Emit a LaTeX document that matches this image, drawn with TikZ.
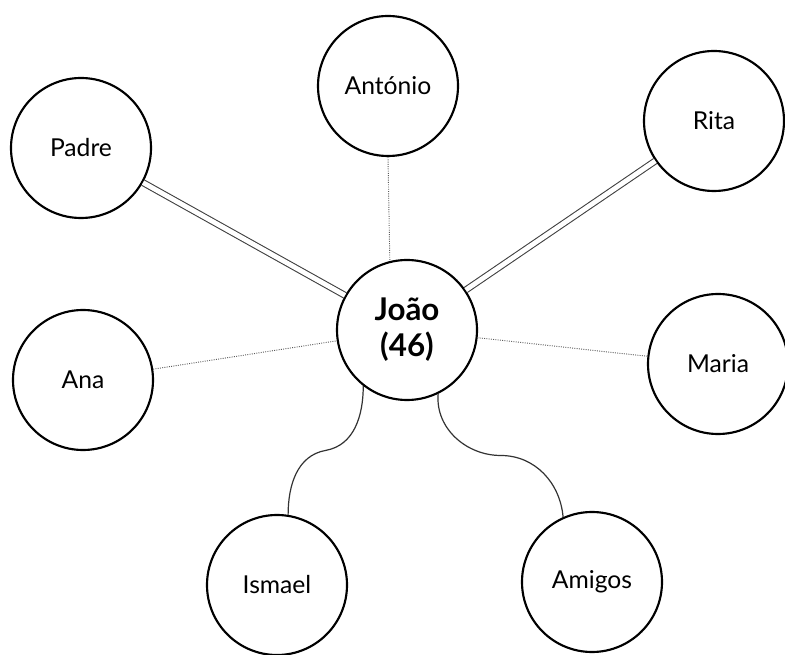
\documentclass[tikz,border=0pt]{standalone}
\usepackage{fontspec}
\setmainfont{Lato}
\usepackage{tikz}
\usetikzlibrary{calc}

\tikzset{
  person/.style={draw, circle, line width=1.6pt, minimum size=105pt, inner sep=0pt, font=\fontsize{18.5}{22}\selectfont},
  ego/.style={person, font=\bfseries\fontsize{23.5}{27}\selectfont, align=center},
  weak/.style={densely dotted, line width=0.7pt, gray!70!black},
  strong/.style={double, double distance=3.6pt, line width=0.8pt, black!75},
  tense/.style={line width=0.9pt, black!80}
}

\begin{document}
\begin{tikzpicture}[x=0.75pt,y=-0.75pt]
  \useasboundingbox (0,0) rectangle (785,655);
  % central person
  \node[ego] (joao) at (407,330) {João\\(46)};
  % the others around
  \node[person] (antonio) at (388,86) {António};
  \node[person] (padre) at (81,148) {Padre};
  \node[person] (rita) at (714,121) {Rita};
  \node[person] (ana) at (83,380) {Ana};
  \node[person] (maria) at (718,364) {Maria};
  \node[person] (ismael) at (277,585) {Ismael};
  \node[person] (amigos) at (592,582) {Amigos};
  % weak ties
  \draw[weak] (antonio.south) -- (joao.104);
  \draw[weak] (ana) -- (joao);
  \draw[weak] (maria) -- (joao);
  % strong ties
  \draw[strong] (padre) -- (joao);
  \draw[strong] (rita) -- (joao);
  % tense ties
  \draw[tense] (joao.-128) to[out=-90,in=10] ($(joao.-128)!0.5!(ismael.81)$)
    to[out=190,in=90] (ismael.81);
  \draw[tense] (joao.-64) to[out=-95,in=180] ($(joao.-64)!0.5!(amigos.114)$)
    to[out=0,in=95] (amigos.114);
\end{tikzpicture}
\end{document}
